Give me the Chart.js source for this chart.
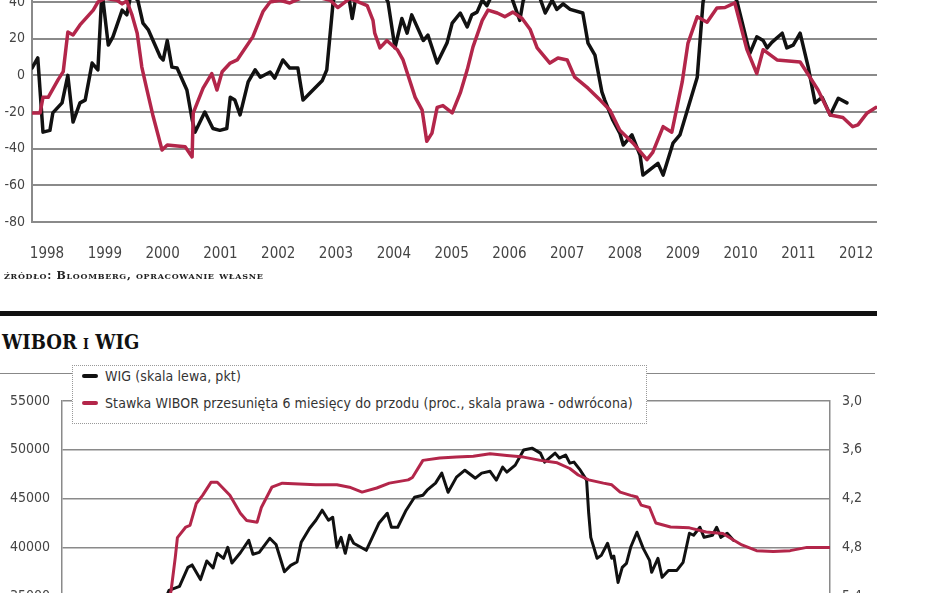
<!DOCTYPE html>
<html lang="pl">
<head>
  <meta charset="UTF-8">
  <title>WIBOR i WIG</title>
  <script src="https://cdn.jsdelivr.net/npm/chart.js"></script>
  <style>
    html, body {
      margin: 0;
      padding: 0;
      width: 948px;
      height: 593px;
      overflow: hidden;
      background: #fff;
    }
    #wykres1 { position: absolute; left: 0; top: -60px; }
    #wykres2 { position: absolute; left: 0; top: 380px; }
    .zrodlo {
      position: absolute; left: 4px; top: 269px;
      font-family: "DejaVu Serif", serif; font-weight: bold;
      font-variant: small-caps; font-size: 11px; color: #222;
      letter-spacing: 0.7px;
    }
    .kreska {
      position: absolute; left: 0; top: 311px; width: 877px; height: 5px;
      background: #111;
    }
    .tytul {
      position: absolute; left: 2px; top: 330px;
      font-family: "DejaVu Serif Condensed", "DejaVu Serif", serif; font-weight: bold;
      font-variant: small-caps; font-size: 20px; color: #111;
    }
    .linia {
      position: absolute; left: 0; top: 373px; width: 875px; height: 0;
      border-top: 1.5px solid #888;
    }
    .legenda {
      position: absolute; left: 72px; top: 365px; width: 573px; height: 57px;
      border: 1.5px dotted #999; background: #fff; z-index: 2;
      font-family: "DejaVu Sans Condensed", "Liberation Sans Narrow", "DejaVu Sans", sans-serif;
      font-size: 14px; letter-spacing: 0.1px; color: #333;
    }
    .poz { position: absolute; left: 9px; white-space: nowrap; }
    .poz i {
      display: inline-block; width: 16px; height: 4px; border-radius: 2px;
      vertical-align: middle; margin-right: 7px; position: relative; top: -1px;
    }
  </style>
</head>
<body>
  <canvas id="wykres1" width="948" height="330"></canvas>
  <div class="zrodlo">źródło: Bloomberg, opracowanie własne</div>
  <div class="kreska"></div>
  <div class="tytul">WIBOR i WIG</div>
  <div class="linia"></div>
  <div class="legenda">
    <div class="poz" style="top:2px"><i style="background:#111"></i>WIG (skala lewa, pkt)</div>
    <div class="poz" style="top:29px"><i style="background:#b3264a"></i>Stawka WIBOR przesunięta 6 miesięcy do przodu (proc., skala prawa - odwrócona)</div>
  </div>
  <canvas id="wykres2" width="948" height="300"></canvas>

  <script>
    const czcionka = '"DejaVu Sans Condensed", "Liberation Sans Narrow", "DejaVu Sans", sans-serif';
    const czarny = '#111';
    const czerwony = '#b3264a';
    const siatka = '#8a8a8a';

    // gorny wykres - lata na osi
    const lata = [1998, 1999, 2000, 2001, 2002, 2003, 2004, 2005, 2006, 2007, 2008, 2009, 2010, 2011, 2012];
    const osY1 = [-80, -60, -40, -20, 0, 20, 40, 60];

    // [rok, wartosc] - linia czarna
    const seriaCzarna = [
      [1997.74, 4], [1997.84, 9.5], [1997.93, -31], [1998.05, -30], [1998.10, -20.5], [1998.26, -15],
      [1998.36, 0], [1998.45, -25.5], [1998.57, -15], [1998.66, -13.5], [1998.78, 6.7], [1998.88, 3],
      [1998.95, 46], [1999.06, 16.5], [1999.14, 21], [1999.30, 35.6], [1999.38, 33], [1999.45, 44],
      [1999.57, 41], [1999.66, 28.5], [1999.75, 25], [1999.96, 10], [2000.01, 8.4], [2000.08, 19],
      [2000.16, 4.5], [2000.25, 4], [2000.42, -8], [2000.51, -24], [2000.56, -31], [2000.73, -20],
      [2000.87, -29], [2000.99, -30], [2001.11, -29], [2001.17, -12], [2001.25, -13.5], [2001.34, -21.6],
      [2001.48, -3.6], [2001.60, 3], [2001.69, -1], [2001.86, 1.8], [2001.94, -1.5], [2002.08, 8.4],
      [2002.20, 4], [2002.34, 4], [2002.43, -13.5], [2002.55, -9.6], [2002.76, -3], [2002.84, 3],
      [2002.95, 40], [2003.07, 52], [2003.21, 45], [2003.28, 31], [2003.33, 40], [2003.42, 50],
      [2003.59, 56], [2003.76, 48], [2003.90, 40], [2004.02, 15], [2004.14, 31], [2004.23, 23],
      [2004.31, 33], [2004.51, 19], [2004.59, 22], [2004.75, 6.7], [2004.92, 17.6], [2005.01, 28.5],
      [2005.15, 34], [2005.27, 26.4], [2005.35, 33], [2005.44, 34.5], [2005.53, 41], [2005.61, 38],
      [2005.70, 44], [2005.84, 48], [2006.01, 45], [2006.18, 30], [2006.24, 41], [2006.36, 46],
      [2006.53, 42], [2006.62, 34], [2006.74, 41], [2006.82, 36], [2006.93, 39], [2007.05, 36],
      [2007.27, 34], [2007.36, 17.6], [2007.48, 11], [2007.60, -9], [2007.65, -13.5], [2007.79, -24.5],
      [2007.91, -31.5], [2007.97, -38], [2008.12, -32.5], [2008.26, -43.5], [2008.31, -54.4], [2008.57, -48],
      [2008.66, -54.4], [2008.83, -37], [2008.95, -32.5], [2009.25, -1], [2009.35, 40], [2009.47, 55],
      [2009.64, 60], [2009.81, 50], [2009.94, 40], [2010.16, 12], [2010.28, 21], [2010.39, 19],
      [2010.46, 15], [2010.54, 18], [2010.72, 23], [2010.80, 15], [2010.91, 16.5], [2011.03, 23],
      [2011.17, 4.5], [2011.29, -15], [2011.41, -12], [2011.55, -21.6], [2011.69, -12.5], [2011.84, -15]
    ];

    // [rok, wartosc] - linia czerwona
    const seriaCzerwona = [
      [1997.74, -20.5], [1997.88, -20.5], [1997.93, -12], [1998.02, -12], [1998.19, -2.5], [1998.28, 2],
      [1998.36, 23.6], [1998.45, 22], [1998.57, 27.5], [1998.80, 35.6], [1998.88, 40], [1999.00, 42],
      [1999.21, 41], [1999.30, 39], [1999.38, 40.5], [1999.47, 33], [1999.56, 23], [1999.64, 4.5],
      [1999.73, -8], [1999.83, -21.6], [1999.99, -40.7], [2000.08, -38], [2000.39, -39], [2000.51, -44.5],
      [2000.53, -20.5], [2000.70, -7], [2000.85, 1], [2000.94, -8], [2001.03, 2], [2001.17, 6.7],
      [2001.29, 8.4], [2001.56, 21], [2001.74, 35], [2001.86, 40], [2002.03, 41], [2002.20, 39.5],
      [2002.38, 42], [2002.64, 43], [2002.90, 41], [2003.03, 37], [2003.24, 42], [2003.54, 38],
      [2003.64, 30], [2003.67, 23], [2003.76, 15], [2003.88, 19], [2004.06, 14], [2004.16, 8.4],
      [2004.37, -12], [2004.49, -19], [2004.57, -36], [2004.66, -31.5], [2004.75, -17.5], [2004.85, -16.5],
      [2005.01, -20.5], [2005.15, -9.6], [2005.27, 3], [2005.37, 15.5], [2005.53, 30], [2005.63, 35.6],
      [2005.79, 34], [2005.92, 32], [2006.06, 34.5], [2006.22, 31], [2006.36, 25], [2006.48, 15],
      [2006.70, 6.7], [2006.84, 9.5], [2007.00, 8.4], [2007.13, -1], [2007.36, -7], [2007.57, -13.5],
      [2007.74, -19], [2007.91, -30], [2008.14, -37], [2008.38, -46], [2008.48, -42], [2008.66, -28],
      [2008.81, -31], [2008.99, -3.6], [2009.09, 17.6], [2009.25, 32], [2009.42, 29], [2009.59, 36.7],
      [2009.73, 37], [2009.90, 39.5], [2010.11, 14], [2010.28, 1], [2010.39, 14], [2010.63, 8.4],
      [2011.03, 7.3], [2011.20, -1], [2011.34, -8], [2011.55, -21.6], [2011.77, -23], [2011.94, -28],
      [2012.03, -27], [2012.19, -20.5], [2012.34, -17.5]
    ];

    // dolny wykres: WIG (pkt) i WIBOR (proc.)
    const osWig = [30000, 35000, 40000, 45000, 50000, 55000];
    const osWibor = [3.0, 3.6, 4.2, 4.8, 5.4, 6.0];

    const wig = [
      [2009.56, 33500], [2009.60, 35590], [2009.65, 36000], [2009.69, 37950], [2009.71, 38200], [2009.75, 36700],
      [2009.78, 38600], [2009.81, 37900], [2009.83, 39390], [2009.86, 38880], [2009.88, 40010], [2009.90, 38400],
      [2009.94, 39450], [2009.98, 40720], [2010.00, 39300], [2010.03, 39490], [2010.08, 40930], [2010.11, 40300],
      [2010.15, 37500], [2010.18, 38150], [2010.21, 38500], [2010.23, 40520], [2010.27, 41960], [2010.30, 42780],
      [2010.33, 43810], [2010.36, 42780], [2010.38, 43090], [2010.40, 40010], [2010.42, 41030], [2010.44, 39390],
      [2010.46, 41240], [2010.48, 40420], [2010.54, 39700], [2010.60, 42470], [2010.64, 43500], [2010.66, 42060],
      [2010.69, 42060], [2010.73, 43810], [2010.77, 45140], [2010.81, 45350], [2010.83, 45860], [2010.87, 46580],
      [2010.90, 47610], [2010.93, 45650], [2010.97, 47200], [2011.01, 47910], [2011.06, 47090], [2011.09, 47610],
      [2011.13, 47800], [2011.16, 46890], [2011.19, 48220], [2011.21, 47710], [2011.25, 48430], [2011.29, 49970],
      [2011.33, 50170], [2011.37, 49660], [2011.39, 48740], [2011.44, 49660], [2011.46, 49150], [2011.49, 49460],
      [2011.51, 48630], [2011.53, 48740], [2011.56, 47910], [2011.59, 46890], [2011.60, 43500], [2011.61, 41030],
      [2011.64, 38880], [2011.66, 39180], [2011.69, 40420], [2011.71, 38880], [2011.72, 39100], [2011.74, 36410],
      [2011.76, 37950], [2011.78, 38360], [2011.80, 40010], [2011.83, 41550], [2011.86, 39900], [2011.89, 38670],
      [2011.90, 37440], [2011.93, 38880], [2011.95, 36930], [2011.98, 37640], [2012.02, 37640], [2012.05, 38470],
      [2012.08, 41450], [2012.10, 41240], [2012.13, 42060], [2012.15, 41030], [2012.19, 41240], [2012.21, 42060],
      [2012.23, 41030], [2012.26, 41450], [2012.29, 40720]
    ];

    const wibor = [
      [2009.58, 5.7], [2009.61, 5.33], [2009.63, 4.92], [2009.64, 4.68], [2009.68, 4.55], [2009.70, 4.53],
      [2009.73, 4.26], [2009.76, 4.16], [2009.80, 4.00], [2009.83, 4.00], [2009.89, 4.16], [2009.94, 4.38],
      [2009.97, 4.47], [2010.02, 4.49], [2010.04, 4.31], [2010.09, 4.06], [2010.14, 4.01], [2010.22, 4.02],
      [2010.30, 4.03], [2010.40, 4.03], [2010.46, 4.06], [2010.52, 4.12], [2010.59, 4.07], [2010.65, 4.01],
      [2010.74, 3.97], [2010.76, 3.94], [2010.81, 3.73], [2010.89, 3.70], [2010.97, 3.69], [2011.05, 3.68],
      [2011.13, 3.65], [2011.21, 3.67], [2011.29, 3.69], [2011.37, 3.73], [2011.45, 3.76], [2011.51, 3.83],
      [2011.55, 3.91], [2011.60, 3.97], [2011.67, 4.01], [2011.71, 4.03], [2011.75, 4.12], [2011.80, 4.16],
      [2011.83, 4.18], [2011.85, 4.28], [2011.89, 4.31], [2011.92, 4.50], [2011.99, 4.55], [2012.08, 4.56],
      [2012.16, 4.61], [2012.24, 4.63], [2012.29, 4.71], [2012.33, 4.77], [2012.40, 4.84], [2012.48, 4.85],
      [2012.56, 4.84], [2012.64, 4.80], [2012.75, 4.80]
    ];

    const naPunkty = arr => arr.map(p => ({ x: p[0], y: p[1] }));

    const linia = (dane, kolor, szer, os) => ({
      data: naPunkty(dane),
      borderColor: kolor,
      borderWidth: szer,
      pointRadius: 0,
      tension: 0,
      borderJoinStyle: 'round',
      borderCapStyle: 'round',
      yAxisID: os
    });

    // dociaga obszar wykresu tak, by dwie wartosci osi wypadly na zadanych pikselach kanwy
    function dopasuj(chart, osId, vGora, pxGora, vDol, pxDol) {
      for (let i = 0; i < 4; i++) {
        const s = chart.scales[osId];
        const dG = pxGora - s.getPixelForValue(vGora);
        const dD = pxDol - s.getPixelForValue(vDol);
        if (Math.abs(dG) < 0.2 && Math.abs(dD) < 0.2) break;
        const p = chart.options.layout.padding;
        p.top += dG;
        p.bottom -= dD;
        chart.update();
      }
    }

    Chart.defaults.font.family = czcionka;
    Chart.defaults.color = '#444';
    Chart.defaults.animation = false;

    const w1 = new Chart(document.getElementById('wykres1'), {
      type: 'line',
      data: {
        datasets: [
          linia(seriaCzerwona, czerwony, 3.5, 'y'),
          linia(seriaCzarna, czarny, 3.5, 'y')
        ]
      },
      options: {
        responsive: false,
        layout: { padding: { top: 25, right: 71, left: 0, bottom: 20 } },
        plugins: { legend: { display: false }, tooltip: { enabled: false } },
        scales: {
          x: {
            type: 'linear',
            min: 1997.74,
            max: 2012.36,
            grid: { display: false, drawTicks: false },
            border: { display: false },
            ticks: { font: { size: 15 }, padding: 23, autoSkip: false, maxRotation: 0, callback: v => String(v) },
            afterBuildTicks: s => { s.ticks = lata.map(v => ({ value: v })); },
            afterFit: s => { s.height = 40; }
          },
          y: {
            min: -80,
            max: 60,
            grid: { color: siatka, lineWidth: 2, drawTicks: false },
            border: { display: true, color: siatka, width: 2 },
            ticks: { font: { size: 14 }, padding: 7, callback: v => (v > 40 ? null : String(v)) },
            afterBuildTicks: s => { s.ticks = osY1.map(v => ({ value: v })); },
            afterFit: s => { s.width = 32; }
          }
        }
      }
    });
    // 40 na y=2, -80 na y=222 strony (kanwa przesunieta o 60 px)
    dopasuj(w1, 'y', 40, 62, -80, 282);

    const w2 = new Chart(document.getElementById('wykres2'), {
      type: 'line',
      data: {
        datasets: [
          linia(wibor, czerwony, 3, 'prawa'),
          linia(wig, czarny, 3, 'lewa')
        ]
      },
      options: {
        responsive: false,
        layout: { padding: { top: 21, right: 0, left: 0, bottom: 30 } },
        plugins: { legend: { display: false }, tooltip: { enabled: false } },
        scales: {
          x: {
            type: 'linear', min: 2009.09, max: 2012.75, display: false,
            ticks: { display: false },
            afterFit: s => { s.height = 0; }
          },
          lewa: {
            position: 'left',
            min: 30000,
            max: 55000,
            grid: { color: siatka, lineWidth: 1.5, drawTicks: false },
            border: { display: true, color: siatka, width: 1.5 },
            ticks: { font: { size: 14 }, padding: 12, callback: v => (v <= 30000 ? null : String(v)) },
            afterBuildTicks: s => { s.ticks = osWig.map(v => ({ value: v })); },
            afterFit: s => { s.width = 62; }
          },
          prawa: {
            position: 'right',
            reverse: true,
            min: 3.0,
            max: 6.0,
            grid: { display: false, drawTicks: false },
            border: { display: true, color: siatka, width: 1.5 },
            ticks: { font: { size: 14 }, padding: 12, callback: v => (v >= 6 ? null : v.toFixed(1).replace('.', ',')) },
            afterBuildTicks: s => { s.ticks = osWibor.map(v => ({ value: v })); },
            afterFit: s => { s.width = 118; }
          }
        }
      }
    });
    // 55000 na y=401, 35000 na y=596 strony (kanwa od 380 px)
    dopasuj(w2, 'lewa', 55000, 21, 35000, 216);
  </script>
</body>
</html>
